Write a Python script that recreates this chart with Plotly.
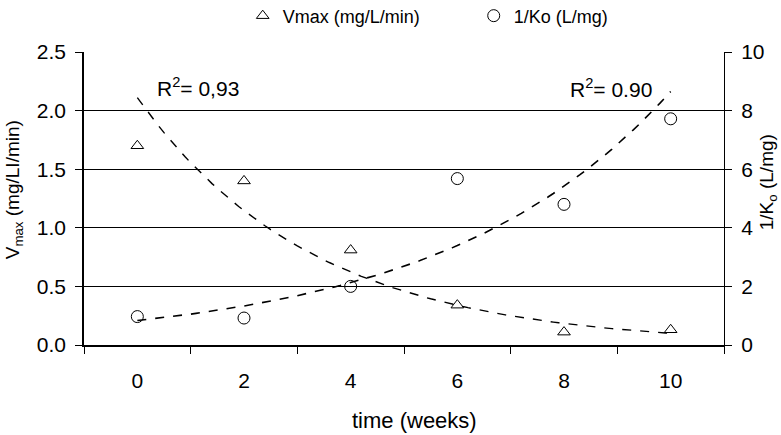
import numpy as np
import plotly.graph_objects as go

# ---- data ----
weeks = [0, 2, 4, 6, 8, 10]
vmax = [1.70, 1.40, 0.81, 0.34, 0.11, 0.13]          # mg/L/min (left axis)
inv_ko = [0.97, 0.92, 2.00, 5.68, 4.80, 7.72]        # L/mg (right axis)
x_ticks = [0, 2, 4, 6, 8, 10]
r2_vmax = "0,93"
r2_ko = "0.90"

FONT = "Liberation Sans, Arial, sans-serif"

# exponential trend lines fitted to the data (as in the original spreadsheet)
xw = np.array(weeks, dtype=float)
bv, av = np.polyfit(xw, np.log(vmax), 1)
bk, ak = np.polyfit(xw, np.log(inv_ko), 1)
xt = np.linspace(0, 10, 101)
trend_v = np.exp(av) * np.exp(bv * xt)
trend_k = np.exp(ak) * np.exp(bk * xt)

fig = go.Figure()

fig.add_trace(go.Scatter(
    x=weeks, y=vmax, mode="markers", name="Vmax (mg/L/min)",
    marker=dict(symbol="triangle-up-open", size=11, color="black",
                line=dict(width=1, color="black")),
    yaxis="y"))
fig.add_trace(go.Scatter(
    x=weeks, y=inv_ko, mode="markers", name="1/Ko (L/mg)",
    marker=dict(symbol="circle-open", size=12, color="black",
                line=dict(width=1, color="black")),
    yaxis="y2"))
fig.add_trace(go.Scatter(
    x=xt, y=trend_v, mode="lines", showlegend=False,
    line=dict(color="black", width=1.4, dash="dash"), yaxis="y"))
fig.add_trace(go.Scatter(
    x=xt, y=trend_k, mode="lines", showlegend=False,
    line=dict(color="black", width=1.6, dash="dash"), yaxis="y2"))

fig.update_layout(
    width=781, height=435,
    margin=dict(l=84, r=57, t=52, b=90, autoexpand=False),
    paper_bgcolor="white", plot_bgcolor="white",
    font=dict(family=FONT, color="black", size=21),
    showlegend=True,
    legend=dict(orientation="h", x=0.248, y=1.123, xanchor="left", yanchor="middle",
                font=dict(size=18, family=FONT), entrywidth=186, entrywidthmode="pixels",
                itemwidth=30, bgcolor="rgba(0,0,0,0)"),
    xaxis=dict(range=[-1, 11], tickmode="array", tickvals=x_ticks,
               ticktext=[str(v) for v in x_ticks], ticks="",
               showgrid=False, zeroline=False, showline=True,
               linecolor="black", linewidth=2,
               minor=dict(tickmode="linear", tick0=-1, dtick=2, ticks="outside",
                          ticklen=7, tickwidth=1, tickcolor="black", showgrid=False),
               tickfont=dict(size=21), ticklabelstandoff=16),
    yaxis=dict(range=[0, 2.5], tickmode="linear", tick0=0, dtick=0.5,
               tickformat=".1f", showgrid=True, gridcolor="black", gridwidth=1,
               zeroline=False, showline=True, linecolor="black", linewidth=1.5,
               ticks="outside", ticklen=7, tickcolor="black", tickwidth=1,
               tickfont=dict(size=21), ticklabelstandoff=5),
    yaxis2=dict(range=[0, 10], tickmode="linear", tick0=0, dtick=2,
                overlaying="y", side="right", showgrid=False, zeroline=False,
                showline=True, linecolor="black", linewidth=1,
                ticks="outside", ticklen=7, tickcolor="black", tickwidth=1,
                tickfont=dict(size=21), ticklabelstandoff=5),
    annotations=[
        dict(text="V<sub>max</sub> (mg/LI/min)", xref="paper", yref="paper",
             x=-0.11, y=0.53, textangle=-90, showarrow=False,
             font=dict(size=19), xanchor="center", yanchor="middle"),
        dict(text="1/K<sub>o</sub> (L/mg)", xref="paper", yref="paper",
             x=1.069, y=0.556, textangle=-90, showarrow=False,
             font=dict(size=19), xanchor="center", yanchor="middle"),
        dict(text="time (weeks)", xref="paper", yref="paper",
             x=0.516, y=-0.259, showarrow=False, font=dict(size=22),
             xanchor="center", yanchor="middle"),
        dict(text="R<sup>2</sup>= " + r2_vmax, xref="x", yref="y",
             x=0.33, y=2.2, showarrow=False, font=dict(size=21),
             xanchor="left", yanchor="middle"),
        dict(text="R<sup>2</sup>= " + r2_ko, xref="x", yref="y",
             x=8.08, y=2.19, showarrow=False, font=dict(size=21),
             xanchor="left", yanchor="middle"),
    ],
)

fig.write_html("out.html", config={"displayModeBar": False},
               post_script="document.body.style.margin='0';document.body.style.padding='0';")
